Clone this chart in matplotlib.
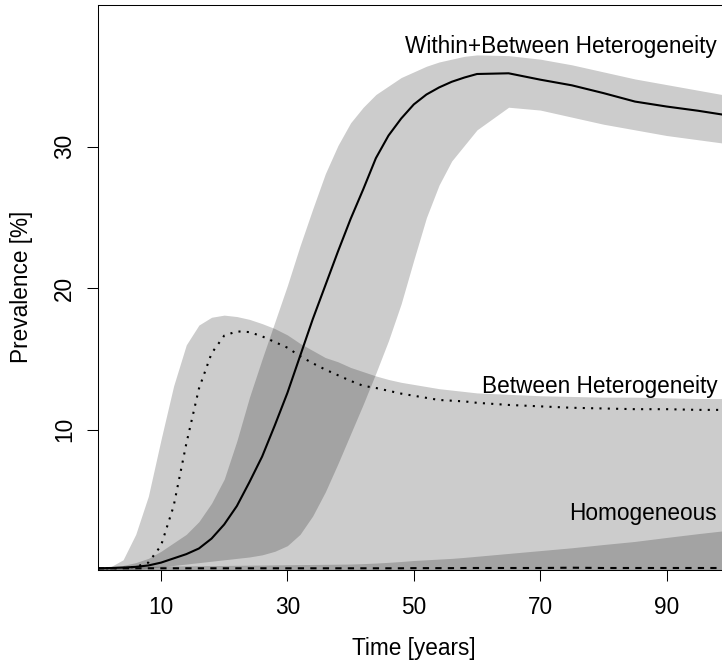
import matplotlib
matplotlib.use("Agg")
import matplotlib.pyplot as plt

plt.rcParams['font.family'] = ['Liberation Sans', 'DejaVu Sans']

# time grid (years)
t = [0, 2, 4, 6, 8, 10, 12, 14, 16, 18, 20, 22, 24, 26, 28, 30, 32, 34, 36, 38,
     40, 42, 44, 46, 48, 50, 52, 54, 56, 58, 60, 65, 70, 75, 80, 85, 90, 95, 100]

# Within+Between heterogeneity: median and band
wb_med = [0.2, 0.22, 0.25, 0.3, 0.4, 0.6, 0.9, 1.2, 1.6, 2.3, 3.3, 4.6, 6.3, 8.1, 10.3, 12.6, 15.2, 17.8, 20.2, 22.6,
          24.9, 27.0, 29.2, 30.8, 32.0, 33.0, 33.7, 34.2, 34.6, 34.9, 35.15, 35.2, 34.75, 34.35, 33.8, 33.2, 32.85, 32.55, 32.2]
wb_up = [0.25, 0.3, 0.4, 0.6, 0.9, 1.4, 2.0, 2.6, 3.5, 4.8, 6.5, 9.2, 12.3, 15.0, 17.6, 20.2, 23.0, 25.6, 28.1, 30.1,
         31.7, 32.8, 33.7, 34.3, 34.9, 35.3, 35.7, 36.0, 36.2, 36.4, 36.5, 36.45, 36.2, 35.8, 35.3, 34.8, 34.4, 34.0, 33.6]
wb_lo = [0.0, 0.05, 0.08, 0.12, 0.2, 0.3, 0.4, 0.5, 0.6, 0.7, 0.8, 0.9, 1.0, 1.15, 1.4, 1.8, 2.6, 3.9, 5.6, 7.6,
         9.7, 11.8, 14.0, 16.3, 18.9, 22.0, 25.0, 27.3, 29.0, 30.1, 31.2, 32.8, 32.6, 32.1, 31.6, 31.2, 30.8, 30.5, 30.2]

# Between heterogeneity
b_med = [0.2, 0.2, 0.22, 0.3, 0.6, 1.8, 4.6, 9.0, 12.9, 15.4, 16.65, 16.95, 16.9, 16.6, 16.2, 15.8, 15.2, 14.7, 14.25, 13.85,
         13.45, 13.1, 12.95, 12.75, 12.55, 12.4, 12.25, 12.1, 12.05, 12.0, 11.9, 11.75, 11.65, 11.55, 11.5, 11.45, 11.45, 11.4, 11.4]
b_up = [0.25, 0.3, 0.8, 2.6, 5.3, 9.3, 13.1, 16.0, 17.4, 17.95, 18.1, 18.0, 17.8, 17.5, 17.15, 16.7, 16.1, 15.6, 15.1, 14.8,
        14.4, 14.1, 13.8, 13.55, 13.35, 13.2, 13.05, 12.9, 12.8, 12.7, 12.6, 12.5, 12.4, 12.35, 12.3, 12.3, 12.25, 12.2, 12.2]
b_lo = [0.0] * 39

# Homogeneous
h_med = [0.2, 0.2, 0.2, 0.2, 0.2, 0.2, 0.2, 0.2, 0.2, 0.2, 0.2, 0.2, 0.2, 0.2, 0.2, 0.2, 0.2, 0.2, 0.2, 0.2,
         0.2, 0.2, 0.2, 0.2, 0.2, 0.21, 0.21, 0.21, 0.21, 0.22, 0.22, 0.22, 0.22, 0.24, 0.22, 0.22, 0.22, 0.22, 0.22]
h_up = [0.3, 0.31, 0.32, 0.33, 0.34, 0.35, 0.36, 0.37, 0.38, 0.39, 0.4, 0.41, 0.42, 0.43, 0.44, 0.45, 0.46, 0.47, 0.48, 0.49,
        0.5, 0.53, 0.57, 0.62, 0.68, 0.75, 0.8, 0.85, 0.9, 0.97, 1.05, 1.25, 1.45, 1.65, 1.88, 2.1, 2.38, 2.65, 2.9]
h_lo = [0.0] * 39

labels = ["Within+Between Heterogeneity", "Between Heterogeneity", "Homogeneous"]
label_y = [36.62, 12.59, 3.64]

fig = plt.figure(figsize=(7.22, 6.62), dpi=100)
ax = fig.add_axes([0.13546, 0.13943, 0.87535, 0.85347])

# shaded ranges, overlaps come out darker
band = dict(color='black', alpha=0.2, linewidth=0)
ax.fill_between(t, b_lo, b_up, **band)
ax.fill_between(t, wb_lo, wb_up, **band)
ax.fill_between(t, h_lo, h_up, **band)

ax.plot(t, wb_med, color='black', lw=1.5, solid_joinstyle='round')
ax.plot(t, b_med, color='black', lw=1.5, linestyle=(0, (1, 3)), dash_capstyle='butt')
ax.plot(t, h_med, color='black', lw=1.5, linestyle=(0, (3, 3)), dash_capstyle='butt')

for lab, yy in zip(labels, label_y):
    ax.text(98.0, yy, lab, ha='right', va='baseline', fontsize=16.3)

ax.set_xlim(0, 100)
ax.set_ylim(0.1, 40.05)
ax.set_xticks([10, 30, 50, 70, 90])
ax.set_yticks([10, 20, 30])
ax.set_yticklabels(['10', '20', '30'], rotation=90, va='center')
ax.tick_params(axis='both', labelsize=16.3, length=7.7, width=0.75, direction='out')
ax.tick_params(axis='x', pad=11)
ax.tick_params(axis='y', pad=8)
for s in ax.spines.values():
    s.set_linewidth(0.75)

ax.set_xlabel('Time [years]', fontsize=16.3)
ax.set_ylabel('Prevalence [%]', fontsize=16.3)
ax.xaxis.set_label_coords(0.5, -0.1395)
ax.xaxis.label.set_va('center')
ax.yaxis.set_label_coords(-0.12, 0.5)
ax.yaxis.label.set_va('center')

fig.savefig('out.png', dpi=100)
